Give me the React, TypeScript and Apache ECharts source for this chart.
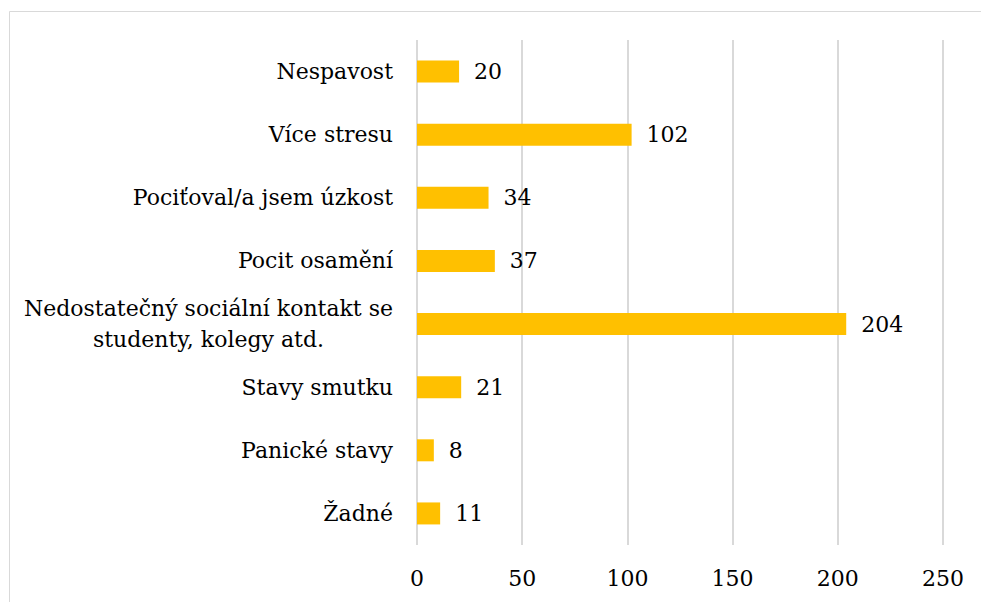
import React, { useEffect, useRef } from "react";
import * as echarts from "echarts";

const categories = [
  "Nespavost",
  "Více stresu",
  "Pociťoval/a jsem úzkost",
  "Pocit osamění",
  "Nedostatečný sociální kontakt se\nstudenty, kolegy atd.",
  "Stavy smutku",
  "Panické stavy",
  "Žadné",
];
const values = [20, 102, 34, 37, 204, 21, 8, 11];
const FONT = "DejaVu Serif";
const FS = 22;

export default function App() {
  const ref = useRef<HTMLDivElement>(null);
  useEffect(() => {
    if (!ref.current) return;
    const chart = echarts.init(ref.current, null, { renderer: "svg" });
    chart.setOption({
      animation: false,
      backgroundColor: "#ffffff",
      textStyle: { fontFamily: FONT },
      graphic: [
        {
          type: "rect",
          shape: { x: 9.5, y: 11.5, width: 1200, height: 1200 },
          style: { fill: "none", stroke: "#d9d9d9", lineWidth: 1 },
          silent: true,
        },
      ],
      grid: {
        left: 417,
        right: 38,
        top: 40,
        bottom: 57,
        containLabel: false,
        outerBoundsMode: "none",
      },
      xAxis: {
        type: "value",
        min: 0,
        max: 250,
        interval: 50,
        axisLine: { show: false },
        axisTick: { show: false },
        splitLine: { show: true, lineStyle: { color: "#d9d9d9", width: 2 } },
        axisLabel: { color: "#000", fontFamily: FONT, fontSize: FS, margin: 22 },
      },
      yAxis: {
        type: "category",
        inverse: true,
        data: categories,
        axisLine: { show: false },
        axisTick: { show: false },
        axisLabel: {
          color: "#000",
          fontFamily: FONT,
          fontSize: FS,
          margin: 24,
          formatter: (v: string) =>
            v
              .split("\n")
              .map((l) => "{c|" + l + "}")
              .join("\n"),
          rich: {
            c: {
              align: "center",
              color: "#000",
              fontFamily: FONT,
              fontSize: FS,
              lineHeight: 31,
            },
          },
        },
      },
      series: [
        {
          type: "bar",
          data: values,
          barWidth: 22,
          itemStyle: { color: "#FFC000" },
          label: {
            show: true,
            position: "right",
            distance: 15,
            color: "#000",
            fontFamily: FONT,
            fontSize: FS,
          },
        },
      ],
    });
    return () => chart.dispose();
  }, []);
  return (
    <div
      ref={ref}
      style={{ position: "absolute", left: 0, top: 0, width: 981, height: 602 }}
    />
  );
}
